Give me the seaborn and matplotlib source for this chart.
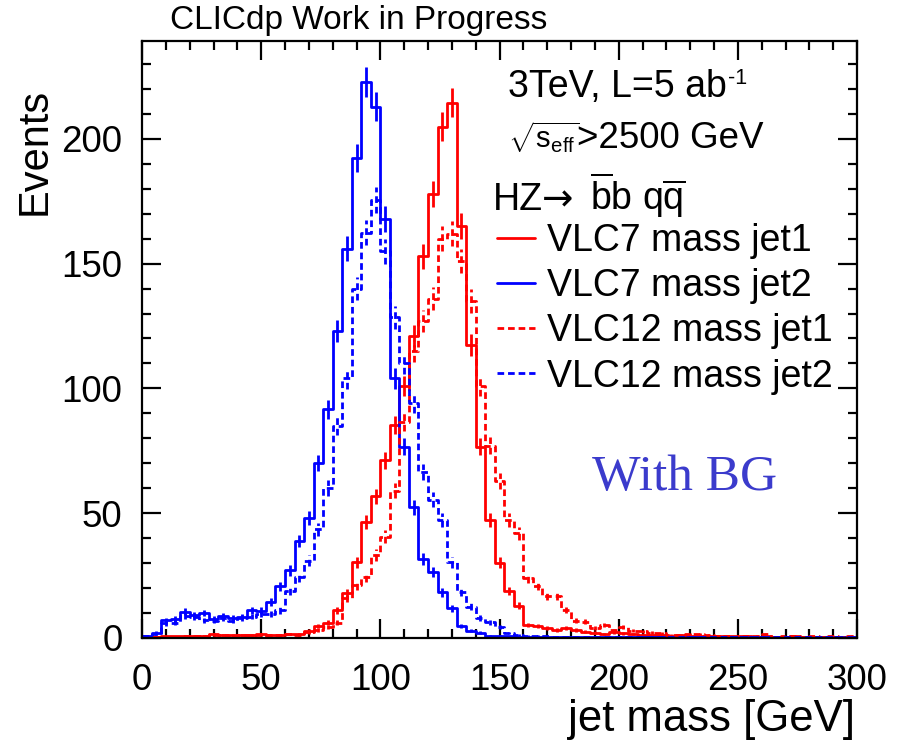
import numpy as np
import pandas as pd
import matplotlib
matplotlib.use("Agg")
import matplotlib.pyplot as plt
import seaborn as sns
from matplotlib.lines import Line2D
from matplotlib.ticker import MultipleLocator

# ---------------- data (4 GeV bins, 0-300 GeV) ----------------
bin_width = 4
bin_edges = list(range(0, 300 + bin_width, bin_width))

vlc7_jet1 = [0.3, 0.3, 0.5, 0.5, 0.5, 0.6, 0.8, 1.3, 1.2, 1.0, 1.0, 1.1, 1.3, 1.0, 1.2, 1.4, 1.5, 2.8, 4.7, 6.0,
             11, 18, 30.2, 46.3, 56.7, 71.2, 85.3, 101, 121, 153, 178, 205, 214.5, 165, 117.4, 76.6, 47.2, 30, 18.7, 12.8,
             5.0, 4.6, 4.0, 3.0, 3.8, 3.0, 2.4, 2.0, 1.5, 2.2, 1.7, 1.5, 1.1, 1.1, 1.0, 0.8, 0.9, 0.7, 0.8, 0.6,
             0.6, 0.5, 0.5, 0.6, 0.4, 0.5, 0.4, 0.4, 0.5, 0.3, 0.4, 0.3, 0.3, 0.4, 0.3]

vlc7_jet2 = [0.5, 2, 7, 7.5, 10.5, 9, 10, 7.5, 8.7, 7.8, 8.5, 11, 10.8, 14.4, 20.7, 27, 38.8, 48, 70, 91.6,
             123, 156, 192.5, 223, 213, 168, 104, 76.6, 52.3, 31.6, 26.3, 18.2, 11.8, 4.7, 2.8, 2.0, 0.7, 0.6, 0.5, 0.4,
             0.4, 0.3, 0.3, 0.3, 0.2, 0.2, 0.2, 0.2, 0.1, 0.1, 0.2, 0.1, 0.1, 0.1, 0.1, 0.1, 0.1, 0.1, 0.1, 0.1,
             0.1, 0.1, 0.1, 0.1, 0.1, 0.1, 0.1, 0.1, 0.1, 0.1, 0.1, 0.1, 0.1, 0.1, 0.1]

vlc12_jet1 = [0.3, 0.3, 0.4, 0.4, 0.5, 0.5, 0.6, 1.0, 1.0, 0.8, 1.0, 1.2, 1.0, 0.9, 1.0, 1.5, 1.2, 2.2, 3.0, 4.4,
              6, 15.8, 21, 24.5, 33.2, 40.5, 59, 86.6, 115, 127, 136, 160, 162, 151, 135, 101, 77, 63, 47.2, 41.9,
              24, 20.8, 16.6, 16.6, 11.1, 6.8, 6.4, 4.0, 5.0, 2.9, 4.2, 2.8, 2.6, 2.0, 1.7, 1.1, 1.1, 1.5, 1.4, 1.1,
              0.7, 0.7, 0.4, 0.5, 0.6, 1.3, 0.4, 0.5, 0.6, 0.4, 0.5, 0.4, 0.5, 0.4, 0.6]

vlc12_jet2 = [0.5, 1.5, 5.8, 6, 8.7, 8.2, 7, 6.8, 8, 6.8, 8, 8.5, 9.5, 9.5, 11, 18.8, 24.5, 30.8, 43.5, 60,
              85, 104, 140, 162.5, 175.5, 155, 128.5, 110, 94, 66.5, 55.3, 47.2, 30.2, 18.3, 12.4, 7.8, 6.1, 4.1, 1.9, 1.0,
              0.8, 0.6, 0.5, 0.4, 0.4, 0.3, 0.3, 0.3, 0.2, 0.2, 0.2, 0.2, 0.2, 0.1, 0.1, 0.1, 0.1, 0.1, 0.1, 0.1,
              0.1, 0.1, 0.1, 0.1, 0.1, 0.1, 0.1, 0.1, 0.1, 0.1, 0.1, 0.1, 0.1, 0.1, 0.1]

series_labels = ["VLC7 mass jet1", "VLC7 mass jet2", "VLC12 mass jet1", "VLC12 mass jet2"]
series_values = [vlc7_jet1, vlc7_jet2, vlc12_jet1, vlc12_jet2]
series_colors = ["#ff0000", "#0000ff", "#ff0000", "#0000ff"]
series_styles = ["-", "-", (0, (2.4, 1.4)), (0, (2.4, 1.4))]

x_ticks = [0, 50, 100, 150, 200, 250, 300]
y_ticks = [0, 50, 100, 150, 200]
err_scale = 0.4  # weighted-event statistical error: err = err_scale * sqrt(N)

# ---------------- style ----------------
sns.set_theme(style="ticks")
plt.rcParams["font.family"] = ["Liberation Sans", "DejaVu Sans"]
plt.rcParams["mathtext.fontset"] = "custom"
plt.rcParams["mathtext.rm"] = "Liberation Sans"
plt.rcParams["mathtext.it"] = "Liberation Sans:italic"
plt.rcParams["mathtext.bf"] = "Liberation Sans:bold"
for k in ["text.color", "axes.labelcolor", "xtick.color", "ytick.color", "axes.edgecolor",
          "xtick.labelcolor", "ytick.labelcolor"]:
    plt.rcParams[k] = "black"

fig = plt.figure(figsize=(8.97, 7.51), dpi=100)
ax = fig.add_axes([142 / 897, 1 - 637.7 / 751, 715 / 897, 596.7 / 751])

edges_arr = np.asarray(bin_edges, dtype=float)
centers = (edges_arr[:-1] + edges_arr[1:]) / 2
lw = 2.0
for lab, vals, col, ls in zip(series_labels, series_values, series_colors, series_styles):
    df = pd.DataFrame({"mass": centers, "events": vals})
    sns.histplot(data=df, x="mass", weights="events", bins=bin_edges, element="step",
                 fill=False, color=col, linewidth=lw, linestyle=ls, ax=ax)
    v = np.asarray(vals)
    eb = ax.errorbar(centers, v, yerr=err_scale * np.sqrt(v), fmt="none", ecolor=col,
                     elinewidth=lw, capsize=0)
    for c in eb[2]:
        c.set_linestyle(ls)

ax.set_xlim(0, 300)
ax.set_ylim(0, 239.3)
ax.set_xticks(x_ticks)
ax.set_yticks(y_ticks)
ax.xaxis.set_minor_locator(MultipleLocator(10))
ax.yaxis.set_minor_locator(MultipleLocator(10))
ax.tick_params(which="both", direction="in", top=True, right=True, color="black", width=1.6)
ax.tick_params(which="major", length=13.5, labelsize=26.5)
ax.tick_params(which="minor", length=6.8)
ax.tick_params(axis="x", which="major", pad=18)
ax.tick_params(axis="y", which="major", pad=14)
for s in ax.spines.values():
    s.set_linewidth(1.6)
    s.set_color("black")
ax.set_xlabel("")
ax.set_ylabel("")

# axis titles and labels
fig.text(855 / 897, 1 - 731 / 751, "jet mass [GeV]", ha="right", va="baseline", fontsize=31.5)
fig.text(35 / 897, 1 - 88 / 751, "Events", ha="center", va="top", rotation=90, fontsize=30)
fig.text(170 / 897, 1 - 20 / 751, "CLICdp Work in Progress", ha="left", va="center", fontsize=24)

def axx(px):
    return (px - 142) / 715

def axy(py):
    return (637.7 - py) / 596.7

def label(px, py, s, size, **kw):
    ax.text(axx(px), axy(py), s, ha="left", va="baseline", fontsize=size, transform=ax.transAxes, **kw)

label(508, 97, "3TeV, L=5 ab", 27)
label(728, 84, "-1", 15.5)
label(508, 148, r"$\sqrt{\mathrm{s_{eff}}}$", 21)
label(577, 148, ">2500 GeV", 26.5)
label(493, 210, "HZ", 27)
label(542, 210, "\u2192", 27, family=["DejaVu Sans"])
label(590, 210, r"$\overline{\mathrm{b}}$b q$\overline{\mathrm{q}}$", 27)
ax.text(axx(685), axy(478), "With BG", ha="center", va="center", fontsize=37, color="#3b3bcc",
        family=["Liberation Serif"], transform=ax.transAxes)

handles = [Line2D([], [], color=c, linestyle=s, linewidth=lw) for c, s in zip(series_colors, series_styles)]
leg = ax.legend(handles, series_labels, loc="upper left", bbox_to_anchor=(axx(497), axy(223)),
                frameon=False, fontsize=27, handlelength=1.0, handletextpad=0.33, labelspacing=0.245,
                borderaxespad=0, borderpad=0)

fig.savefig("out.png", dpi=100)
